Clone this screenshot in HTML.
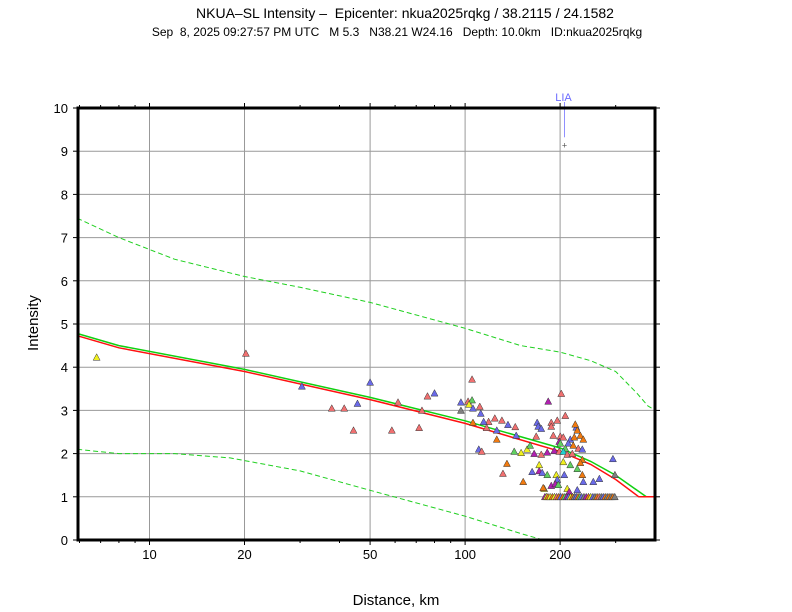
<!DOCTYPE html>
<html><head><meta charset="utf-8"><style>
body{margin:0;background:#fff;}
svg{display:block;font-family:"Liberation Sans",sans-serif;}
text{white-space:pre;}
</style></head><body>
<svg id="chart" width="792" height="612" viewBox="0 0 792 612" xmlns="http://www.w3.org/2000/svg" xml:space="preserve">
<text x="405" y="18" font-size="14" text-anchor="middle">NKUA–SL Intensity –  Epicenter: nkua2025rqkg / 38.2115 / 24.1582</text>
<text x="397" y="36" font-size="12" text-anchor="middle">Sep  8, 2025 09:27:57 PM UTC   M 5.3   N38.21 W24.16   Depth: 10.0km   ID:nkua2025rqkg</text>
<g id="grid"></g>
<g id="curves"></g>
<g id="points"></g>
<g id="axes"></g>
<text x="0" y="0" font-size="15" text-anchor="middle" transform="translate(38,323) rotate(-90)">Intensity</text>
<text x="396" y="605" font-size="15" text-anchor="middle">Distance, km</text>
</svg>
<script>
const xTicks=[10,20,50,100,200];
const xMinor=[6,7,8,9,30,40,60,70,80,90,300,400];
const yTicks=[0,1,2,3,4,5,6,7,8,9,10];
const redD=[5.9,8,20,50,100,200,250,300,355,401];
const redI=[4.73,4.45,3.9,3.25,2.7,2.05,1.75,1.4,1.0,1.0];
const grnD=[5.9,8,20,50,100,200,250,300,375,401];
const grnI=[4.78,4.5,3.95,3.3,2.76,2.13,1.82,1.5,1.0,1.0];
const upD=[5.9,8,12,20,30,50,100,150,200,250,300,350,380,401];
const upI=[7.45,7.0,6.5,6.1,5.85,5.5,4.9,4.5,4.35,4.15,3.9,3.4,3.1,3.0];
const loD=[5.9,8,12,18,30,50,100,150,177];
const loI=[2.1,2.0,2.0,1.9,1.6,1.15,0.55,0.15,0.0];
const ptD=[6.8,20.2,30.4,37.8,41.4,44.3,45.6,50,58.6,61.3,71.5,73,76,80,105.2,97,102.2,105.2,102.9,97,105.9,111.3,112.1,124.2,130.8,118.7,114.5,105.9,117,136.7,144.2,126,126,145.2,110.5,112.9,143.1,150.5,157.2,160.7,165.5,174.3,182.1,191.7,169.2,170.5,174.3,187.5,187.5,195.9,183.4,201.7,207.7,168,190.3,200.3,204.7,198.8,200.3,215.4,221.8,212.3,207.7,225.1,223.4,226.7,231.8,236.9,220.2,228.4,235.2,198.8,204.7,210.7,218.6,235.2,231.8,204.7,215.4,226.7,171.7,135.7,171.7,175.5,163.1,131.8,182.1,194.5,206.2,195.9,235.2,236.9,254.8,266.3,294,298.3,152.8,187.5,193.1,197.4,178.1,210.7,213.8,226.7,
176.8,179,181,183,186,189,192,195,198,201,204,207,210,213,216,219,222,225,228,231,234,238,242,246,250,254,258,262,266,270,274,278,282,286,290,294,298];
const ptI=[4.23,4.32,3.56,3.05,3.05,2.54,3.16,3.65,2.54,3.19,2.6,3.0,3.33,3.4,3.72,3.19,3.21,3.24,3.14,3.0,3.05,3.09,2.93,2.82,2.77,2.74,2.74,2.72,2.6,2.67,2.62,2.54,2.33,2.42,2.1,2.05,2.05,2.02,2.1,2.19,2.0,1.98,2.03,2.07,2.72,2.63,2.58,2.72,2.63,2.77,3.21,3.39,2.88,2.4,2.42,2.4,2.38,2.28,2.24,2.33,2.38,2.24,2.12,2.61,2.68,2.54,2.42,2.33,2.19,2.12,2.1,2.05,2.05,1.98,2.0,1.86,1.79,1.81,1.74,1.65,1.74,1.77,1.6,1.56,1.58,1.54,1.51,1.51,1.51,1.4,1.51,1.35,1.35,1.42,1.88,1.51,1.35,1.26,1.3,1.28,1.19,1.19,1.12,1.16,1.21,
1,1,1,1,1,1,1,1,1,1,1,1,1,1,1,1,1,1,1,1,1,1,1,1,1,1,1,1,1,1,1,1,1,1,1,1,1];
const ptC=['y','r','b','r','r','r','b','b','r','r','r','r','r','b','r','b','r','g','y','k','b','r','b','r','r','r','b','o','r','b','r','b','o','b','b','r','g','y','y','g','p','r','p','p','b','b','b','r','r','r','p','r','r','r','r','r','r','p','g','b','o','b','g','b','o','o','o','o','o','r','b','r','c','r','r','o','o','y','g','g','y','o','p','b','b','r','g','y','b','b','o','b','b','b','b','k','o','p','p','g','y','y','p','b',
'o','p','y','o','y','o','y','r','o','b','o','g','p','b','y','o','k','b','o','g','b','k','p','o','y','b','k','o','r','k','b','o','k','o','k','o','k'];
const palette={r:'#f07070',b:'#6a6ae8',y:'#f0f020',g:'#60d060',o:'#f07a10',p:'#b020b0',k:'#808080',c:'#20d0d0'};
const NS='http://www.w3.org/2000/svg';
const L=78,R=655,T=108,B=540;
const LX0=Math.log10(10),PX0=149.5,PPD=315.6;
function xs(d){return PX0+(Math.log10(d)-LX0)*PPD;}
function ys(v){return B-(v/10)*(B-T);}
function mk(tag,attrs,parent){const e=document.createElementNS(NS,tag);for(const k in attrs)e.setAttribute(k,attrs[k]);parent.appendChild(e);return e;}
const grid=document.getElementById('grid'),axes=document.getElementById('axes'),curves=document.getElementById('curves'),points=document.getElementById('points');
xTicks.forEach(t=>{const x=xs(t);
 const g=mk('line',{x1:x,x2:x,y1:T,y2:B,stroke:'#999','stroke-width':1},grid);
 
 
 const lb=mk('text',{x:x,y:B+19,'font-size':13,'text-anchor':'middle'},axes);lb.textContent=t;
 
 
 mk('line',{x1:x,x2:x,y1:B,y2:B+5,stroke:'#000'},axes);mk('line',{x1:x,x2:x,y1:T,y2:T-5,stroke:'#000'},axes);});
xMinor.forEach(t=>{const x=xs(t);if(x<L||x>R)return;mk('line',{x1:x,x2:x,y1:B,y2:B+3,stroke:'#000'},axes);mk('line',{x1:x,x2:x,y1:T,y2:T-3,stroke:'#000'},axes);});
yTicks.forEach(t=>{const y=ys(t);
 if(t>0&&t<10){const g=mk('line',{x1:L,x2:R,y1:y,y2:y,stroke:'#999','stroke-width':1},grid);
 
 }
 const lb=mk('text',{x:L-10,y:y+5,'font-size':13,'text-anchor':'end'},axes);lb.textContent=t;
 
 
 mk('line',{x1:L-5,x2:L,y1:y,y2:y,stroke:'#000'},axes);mk('line',{x1:R,x2:R+5,y1:y,y2:y,stroke:'#000'},axes);});
const frame=mk('rect',{x:L,y:T,width:R-L,height:B-T,fill:'none',stroke:'#000','stroke-width':3},axes);


function path(D,I,col,dash,name){const d=D.map((v,i)=>(i?'L':'M')+xs(v).toFixed(1)+','+ys(I[i]).toFixed(1)).join('');
 const p=mk('path',{d:d,fill:'none',stroke:col,'stroke-width':dash?1:1.5},curves);if(dash)p.setAttribute('stroke-dasharray','5,3');
 
 }
path(upD,upI,'#20d020',true,'upper-bound-curve');
path(loD,loI,'#20d020',true,'lower-bound-curve');
path(grnD,grnI,'#10d010',false,'green-model-curve');
path(redD,redI,'#ff1010',false,'red-model-curve');
ptD.forEach((d,i)=>{const x=xs(d),y=ys(ptI[i]);
 const p=mk('polygon',{points:`${x-3.5},${y+3} ${x+3.5},${y+3} ${x},${y-3.5}`,fill:palette[ptC[i]],stroke:'#333','stroke-width':0.5},points);
 
 });
const liaD=[206.5],liaI=[9.16];
const lx=xs(liaD[0]),ly=ys(liaI[0]);
const ll=mk('line',{x1:lx,x2:lx,y1:T-6,y2:ly-7,stroke:'#9090ff'},points);


const lp=mk('text',{x:lx,y:ly+4,'font-size':9,'text-anchor':'middle',fill:'#555'},points);lp.textContent='+';


const lt=mk('text',{x:lx-1,y:T-7,'font-size':11,'text-anchor':'middle',fill:'#6a6aff'},points);lt.textContent='LIA';


</script>
</body></html>
